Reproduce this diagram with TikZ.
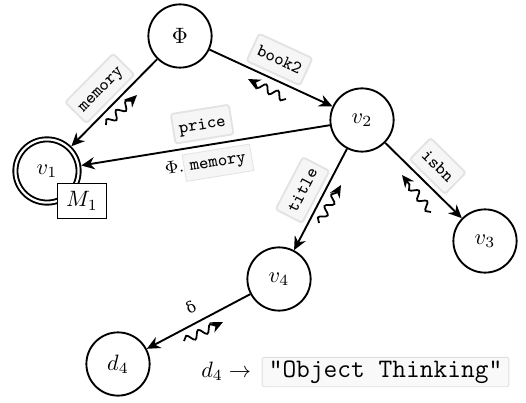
\documentclass[tikz,border=0pt]{standalone}
\usepackage{fontspec}
\newfontfamily\grk{DejaVu Serif}
\usetikzlibrary{arrows.meta,decorations.pathmorphing,calc}
\newcommand\lblbox[1]{{\setlength\fboxsep{2.4pt}\setlength\fboxrule{0.4pt}\fcolorbox{gray!22}{gray!7}{\ttfamily\footnotesize\vphantom{Ag}#1}}}
\begin{document}
\begin{tikzpicture}[x=0.45pt,y=-0.45pt,
  vtx/.style={circle,draw,line width=0.85pt,minimum size=1cm,inner sep=0pt},
  edge/.style={line width=0.85pt,-{Stealth[length=6pt,width=5.5pt]}},
  lbl/.style={fill=gray!7,draw=gray!22,rounded corners=1.2pt,inner xsep=2.6pt,inner ysep=2.2pt,font=\ttfamily\footnotesize,sloped,text height=1.6ex,text depth=0.5ex},
  squig/.style={line width=0.8pt,-{Stealth[length=5.5pt,width=5pt]},decorate,decoration={snake,amplitude=1.7pt,segment length=6pt,post length=3.5pt}}]
\useasboundingbox (0,0) rectangle (526,402);
% vertices
\node[vtx] (phi) at (180,36) {$\Phi$};
\node[vtx,double,double distance=1pt,outer sep=1.4pt] (v1) at (47,171) {$v_1$};
\node[draw,fill=white,line width=0.6pt,minimum width=22pt,minimum height=15.5pt,inner sep=2pt] (m1) at (82,201) {$M_1$};
\node[vtx] (v2) at (362,120) {$v_2$};
\node[vtx] (v3) at (485,241) {$v_3$};
\node[vtx] (v4) at (279,279) {$v_4$};
\node[vtx] (d4) at (118,364) {$d_4$};
% edges
\draw[edge] (phi) -- node[lbl,above=2pt]{memory} (v1);
\draw[edge] (phi) -- node[lbl,above=2pt]{book2} (v2);
\draw[edge] (v2) -- node[lbl,above=2.5pt]{price} node[below=1pt,sloped,font=\footnotesize,inner sep=1pt]{$\Phi$.\lblbox{memory}} (v1);
\draw[edge] (v2) -- node[lbl,above=2pt]{isbn} (v3);
\draw[edge] (v2) -- node[lbl,above=2pt]{title} (v4);
\draw[edge] (v4) -- node[above=1pt,sloped,font=\grk\scriptsize]{δ} (d4);
% squiggles
\coordinate (s1a) at (106,125); \coordinate (s1b) at (137,95);
\coordinate (s2a) at (286,99);  \coordinate (s2b) at (248,79);
\coordinate (s3a) at (431,212); \coordinate (s3b) at (402,175);
\coordinate (s4a) at (319,223); \coordinate (s4b) at (341,185);
\coordinate (s5a) at (184,341); \coordinate (s5b) at (223,322);
\draw[squig] (s1a) -- (s1b);
\draw[squig] (s2a) -- (s2b);
\draw[squig] (s3a) -- (s3b);
\draw[squig] (s4a) -- (s4b);
\draw[squig] (s5a) -- (s5b);
% result
\node[fill=gray!5,draw=gray!25,rounded corners=1pt,inner xsep=3pt,inner ysep=1.5pt,font=\ttfamily\large] (str) at (385.5,372) {"Object Thinking"};
\node[anchor=base east,inner sep=0pt] (res) at ($(str.base west)+(-4.5pt,0)$) {$d_4 \rightarrow$};
\end{tikzpicture}
\end{document}
